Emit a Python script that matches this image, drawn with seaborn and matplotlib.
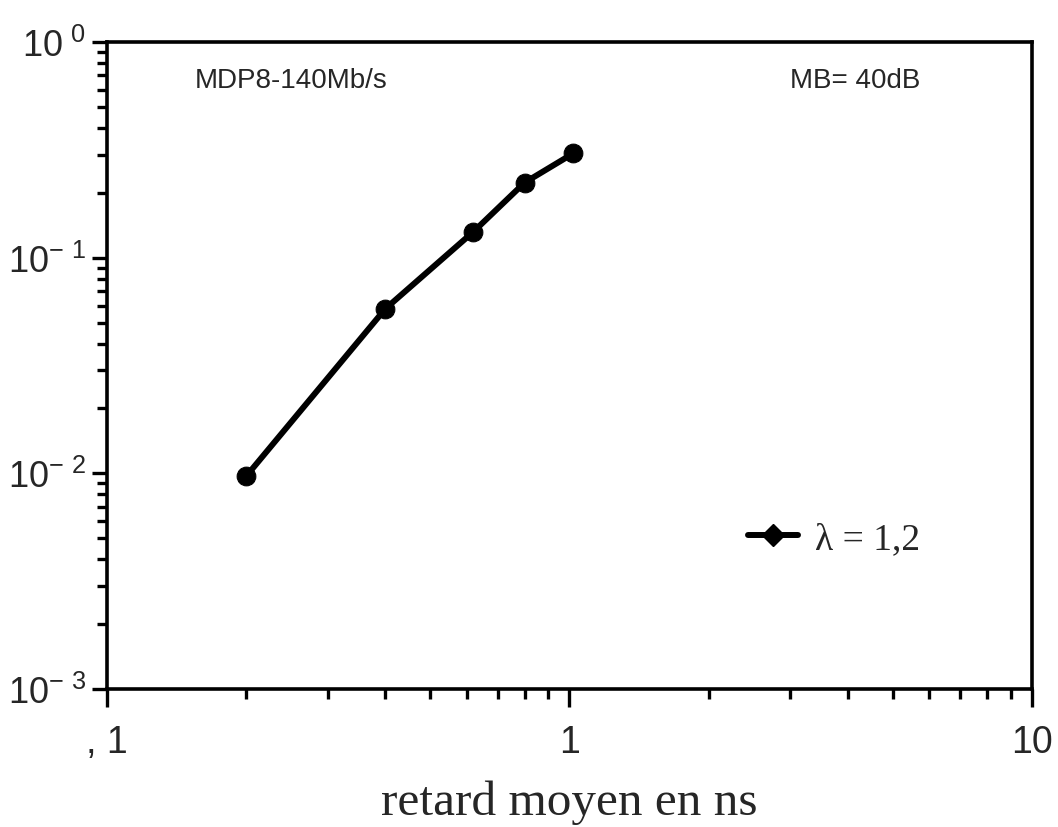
import numpy as np
import pandas as pd
import matplotlib
matplotlib.use("Agg")
import matplotlib.pyplot as plt
import matplotlib.ticker as mticker
from matplotlib.lines import Line2D
import seaborn as sns

# values
retard = [0.2, 0.4, 0.62, 0.8, 1.02]
taux = [0.0097, 0.058, 0.132, 0.223, 0.305]
serie = "λ = 1,2"
xticks = [0.1, 1, 10]
xticklabels = [", 1", "1", "10"]
yticks = [1e-3, 1e-2, 1e-1, 1]
yticklabels = [r"10$^{-\ 3}$", r"10$^{-\ 2}$", r"10$^{-\ 1}$", r"10$^{\ 0}$"]

sns.set_style("white")
plt.rcParams['font.family'] = ['Liberation Sans', 'DejaVu Sans']
plt.rcParams['mathtext.fontset'] = 'custom'
plt.rcParams['mathtext.rm'] = 'Liberation Sans'
plt.rcParams['mathtext.default'] = 'rm'

df = pd.DataFrame({"retard": retard, "taux": taux})

fig = plt.figure(figsize=(10.58, 8.28), dpi=100)
ax = fig.add_axes([0.1011, 0.1667, 0.8743, 0.7813])

sns.lineplot(data=df, x="retard", y="taux", ax=ax, color="black",
             linewidth=4.3, marker="o", markersize=13.5, markeredgecolor="black")

ax.set_xscale("log")
ax.set_yscale("log")
ax.set_xlim(0.1, 10)
ax.set_ylim(1e-3, 1)

for s in ax.spines.values():
    s.set_linewidth(2.6)
    s.set_color("black")

ax.xaxis.set_major_locator(mticker.FixedLocator(xticks))
ax.xaxis.set_major_formatter(mticker.FixedFormatter(xticklabels))
ax.xaxis.set_minor_locator(mticker.LogLocator(base=10, subs=np.arange(2, 10)))
ax.yaxis.set_major_locator(mticker.FixedLocator(yticks))
ax.yaxis.set_major_formatter(mticker.FixedFormatter(yticklabels))
ax.yaxis.set_minor_locator(mticker.LogLocator(base=10, subs=np.arange(2, 10)))
ax.xaxis.set_minor_formatter(mticker.NullFormatter())
ax.yaxis.set_minor_formatter(mticker.NullFormatter())

ax.tick_params(axis="both", which="major", direction="out", width=2.4,
               color="black")
ax.tick_params(axis="both", which="minor", direction="out", length=7,
               width=2.4, color="black")
ax.tick_params(axis="x", which="major", length=13, pad=12, labelsize=27)
ax.tick_params(axis="y", which="major", length=11, pad=4, labelsize=26)
ax.tick_params(bottom=True, left=True, top=False, right=False, which="both")

ax.set_xlabel("retard moyen en ns", fontsize=35.5, family="Liberation Serif",
              labelpad=14)
ax.set_ylabel("")

ax.text(0.095, 0.941, "MDP8-140Mb/s", transform=ax.transAxes, fontsize=20,
        ha="left", va="center")
ax.text(0.738, 0.941, "MB= 40dB", transform=ax.transAxes, fontsize=20,
        ha="left", va="center")

handle = Line2D([], [], color="black", linewidth=4.3, marker="D", markersize=11)
leg = ax.legend([handle], [serie], loc="center left",
                bbox_to_anchor=(0.656, 0.232), frameon=False, handlelength=1.35,
                handletextpad=0.45,
                prop={"family": "Liberation Serif", "size": 27})

fig.savefig("out.png", dpi=100)
